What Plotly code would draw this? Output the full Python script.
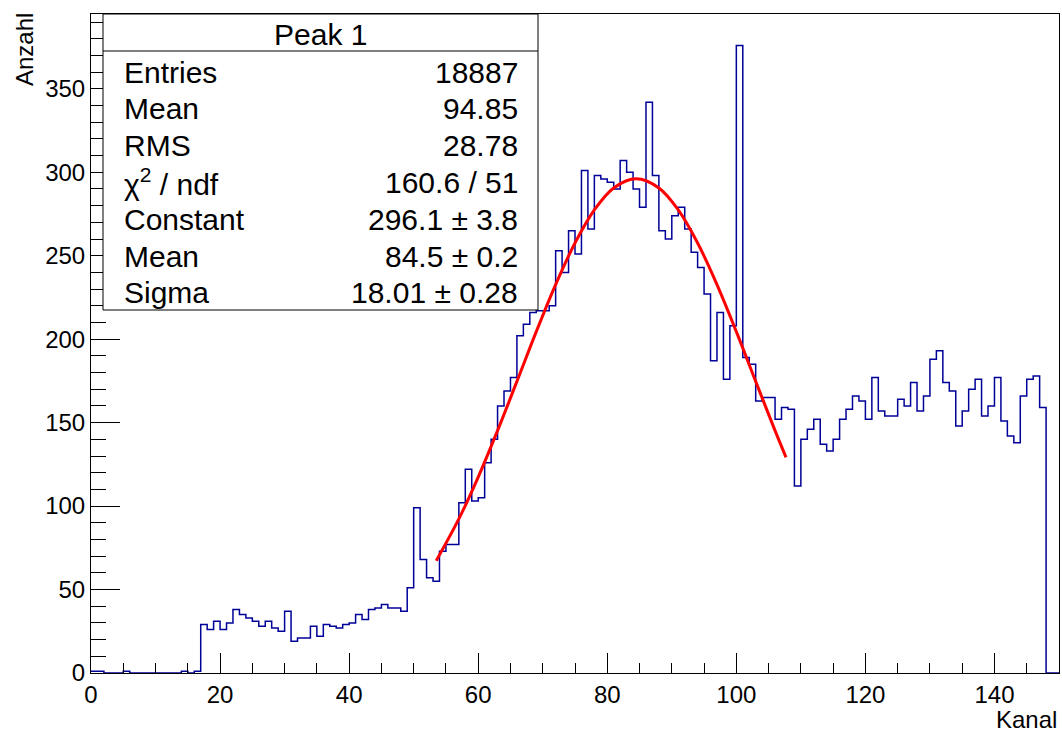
import numpy as np
import plotly.graph_objects as go

# ---- data ----
bin_width = 1.0
x_min, x_max = 0, 150
counts = [
    1, 1, 0, 0, 0, 1, 0, 0, 0, 0,              # 0-9
    0, 0, 0, 0, 1, 0, 1, 29, 26, 31,           # 10-19
    26, 30, 38, 35, 33, 31, 28, 31, 27, 25,    # 20-29
    37, 19, 21, 21, 28, 22, 29, 28, 27, 29,    # 30-39
    30, 35, 32, 38, 39, 41, 39, 39, 37, 51,    # 40-49
    99, 68, 57, 55, 73, 77, 77, 102, 122, 103, # 50-59
    105, 126, 140, 160, 169, 177, 202, 209, 216, 217,  # 60-69
    217, 220, 253, 240, 265, 251, 301, 266, 298, 296,  # 70-79
    294, 290, 307, 300, 290, 279, 342, 298, 265, 260,  # 80-89
    274, 279, 266, 252, 243, 227, 187, 216, 176, 208,  # 90-99
    376, 189, 185, 163, 165, 165, 152, 159, 158, 112,  # 100-109
    140, 146, 152, 137, 133, 140, 152, 158, 166, 163,  # 110-119
    152, 177, 157, 154, 154, 164, 160, 174, 157, 166,  # 120-129
    188, 193, 174, 169, 148, 157, 170, 176, 154, 160,  # 130-139
    177, 151, 142, 138, 166, 176, 178, 159, 0, 0,      # 140-149
]

# fit curve points
fit_x = [53.5, 57, 60, 63, 66, 69, 72, 75, 78, 81, 84.5, 88, 91, 94, 97, 100, 103, 106, 107.7]
fit_y = [67.3, 92.3, 117.4, 145.2, 174.7, 204.5, 232.7, 257.6, 277.4, 290.6, 296.1,
         290.6, 277.4, 257.6, 232.7, 204.5, 174.7, 145.2, 129.2]

x_ticks = [0, 20, 40, 60, 80, 100, 120, 140]
y_ticks = [0, 50, 100, 150, 200, 250, 300, 350]

stats_title = "Peak 1"
stats_labels = ["Entries", "Mean", "RMS", "χ<sup>2</sup> / ndf", "Constant", "Mean", "Sigma"]
stats_values = ["18887", "94.85", "28.78", "160.6 / 51", "296.1 ± 3.8", "84.5 ± 0.2", "18.01 ± 0.28"]

x_title = "Kanal"
y_title = "Anzahl"

# ---- figure ----
W, H = 1062, 733
L, R, T, B = 91, 3, 14, 60
pw, ph = W - L - R, H - T - B

def px(xp):
    return (xp - L) / pw

def py(yp):
    return (H - B - yp) / ph

counts_arr = np.array(counts, dtype=float)
edges = x_min + np.arange(len(counts) + 1) * bin_width
step_y = np.append(counts_arr, counts_arr[-1])

FONT = "Liberation Sans, Arial, Helvetica, sans-serif"

fig = go.Figure()
fig.add_trace(go.Scatter(
    x=edges, y=step_y, mode="lines", line=dict(color="#000099", width=1.5, shape="hv"),
    hoverinfo="skip", showlegend=False))
fig.add_trace(go.Scatter(
    x=fit_x, y=fit_y, mode="lines", line=dict(color="#ff0000", width=3, shape="spline"),
    hoverinfo="skip", showlegend=False))

ymax = 1.05 * max(counts)

fig.update_layout(
    width=W, height=H,
    margin=dict(l=L, r=R, t=T, b=B, pad=0),
    paper_bgcolor="white", plot_bgcolor="white",
    font=dict(family=FONT, color="black", size=24),
    showlegend=False,
    xaxis=dict(range=[x_min, x_max], tickvals=x_ticks, ticks="inside", ticklen=20,
               tickwidth=1, tickcolor="black", showgrid=False, zeroline=False,
               showline=True, mirror=True, linecolor="black", linewidth=1,
               tickfont=dict(size=24, family=FONT, color="black"),
               minor=dict(dtick=5, ticks="inside", ticklen=10, tickcolor="black", tickwidth=1, showgrid=False)),
    yaxis=dict(range=[0, ymax], tickvals=y_ticks, ticks="inside", ticklen=29,
               tickwidth=1, tickcolor="black", showgrid=False, zeroline=False,
               showline=True, mirror=True, linecolor="black", linewidth=1,
               tickfont=dict(size=24, family=FONT, color="black"),
               minor=dict(dtick=10, ticks="inside", ticklen=14.5, tickcolor="black", tickwidth=1, showgrid=False)),
)

# stats box
bx0, bx1, by0, by1 = 103, 538, 14, 310
fig.add_shape(type="rect", xref="paper", yref="paper", x0=px(bx0), x1=px(bx1), y0=py(by1), y1=py(by0),
              line=dict(color="black", width=1), fillcolor="white", layer="above")
fig.add_shape(type="line", xref="paper", yref="paper", x0=px(bx0), x1=px(bx1), y0=py(51), y1=py(51),
              line=dict(color="black", width=1), layer="above")
fig.add_annotation(x=px((bx0 + bx1) / 2), y=py(35), xref="paper", yref="paper", text=stats_title,
                   showarrow=False, xanchor="center", yanchor="middle", font=dict(size=30, family=FONT))
row_y = [72, 108.8, 145.6, 182.4, 219.2, 256, 292.8]
for lab, val, yy in zip(stats_labels, stats_values, row_y):
    fig.add_annotation(x=px(122), y=py(yy), xref="paper", yref="paper", text=lab, showarrow=False,
                       xanchor="left", yanchor="middle", font=dict(size=30, family=FONT))
    fig.add_annotation(x=px(520), y=py(yy), xref="paper", yref="paper", text=val, showarrow=False,
                       xanchor="right", yanchor="middle", font=dict(size=30, family=FONT))

# axis titles
fig.add_annotation(x=px(24), y=py(50), xref="paper", yref="paper", text=y_title, textangle=-90,
                   showarrow=False, xanchor="center", yanchor="middle", font=dict(size=24, family=FONT))
fig.add_annotation(x=px(1059), y=py(719), xref="paper", yref="paper", text=x_title,
                   showarrow=False, xanchor="right", yanchor="middle", font=dict(size=24, family=FONT))

fig.write_html("out.html")
